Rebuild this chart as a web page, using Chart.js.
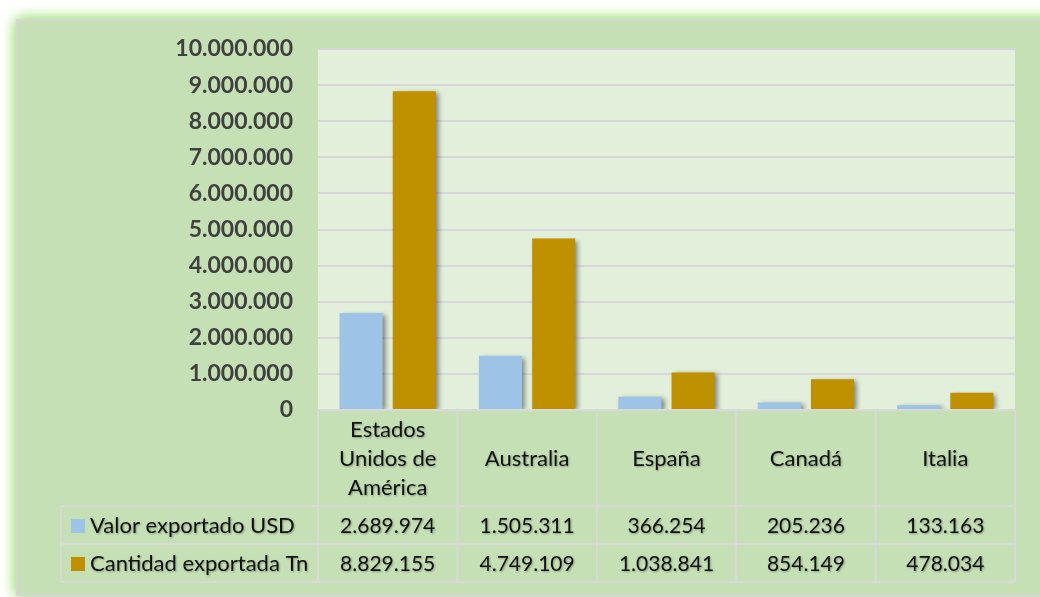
<!DOCTYPE html>
<html>
<head>
<meta charset="utf-8">
<script src="https://cdn.jsdelivr.net/npm/chart.js@4.4.1/dist/chart.umd.min.js"></script>
<style>
  html, body { margin: 0; padding: 0; background: #ffffff; }
  #c { display: block; }
</style>
</head>
<body>
<canvas id="c" width="1040" height="597"></canvas>
<script>
// ---- data ----
const categories = [['Estados', 'Unidos de', 'América'], ['Australia'], ['España'], ['Canadá'], ['Italia']];
const seriesNames = ['Valor exportado USD', 'Cantidad exportada Tn'];
const valorUSD = [2689974, 1505311, 366254, 205236, 133163];
const cantidadTn = [8829155, 4749109, 1038841, 854149, 478034];
const yTicks = [0, 1000000, 2000000, 3000000, 4000000, 5000000, 6000000, 7000000, 8000000, 9000000, 10000000];

const colors = ['#9DC3E6', '#BF9000'];
const FONT = 'Lato, "Open Sans", sans-serif';

function fmt(n) {
  return String(Math.round(n)).replace(/\B(?=(\d{3})+(?!\d))/g, '.');
}

const framePlugin = {
  id: 'frame',
  beforeDraw(chart) {
    const ctx = chart.ctx;
    const a = chart.chartArea;
    ctx.save();
    ctx.fillStyle = '#ffffff';
    ctx.fillRect(0, 0, chart.width, chart.height);
    // glow
    ctx.shadowColor = 'rgba(160, 225, 120, 1)';
    ctx.shadowBlur = 14;
    ctx.fillStyle = '#C5E0B4';
    ctx.fillRect(17, 20, 1060, 575);
    ctx.fillRect(17, 20, 1060, 575);
    ctx.shadowColor = 'transparent';
    ctx.shadowBlur = 0;
    ctx.fillStyle = '#C5E0B4';
    ctx.fillRect(17, 20, 1060, 575);
    ctx.strokeStyle = '#D6D6D6';
    ctx.lineWidth = 2;
    ctx.strokeRect(17, 20, 1060, 575);
    // plot area
    ctx.fillStyle = '#E2EFDA';
    ctx.fillRect(a.left, a.top, a.right - a.left, a.bottom - a.top);
    ctx.restore();
  }
};

const shadowPlugin = {
  id: 'barShadow',
  beforeDatasetsDraw(chart) {
    const ctx = chart.ctx;
    ctx.save();
    ctx.shadowColor = 'rgba(0,0,0,0.45)';
    ctx.shadowBlur = 5;
    ctx.shadowOffsetX = 3;
    ctx.shadowOffsetY = 2;
  },
  afterDatasetsDraw(chart) {
    chart.ctx.restore();
  }
};

const tablePlugin = {
  id: 'dataTable',
  afterDraw(chart) {
    const ctx = chart.ctx;
    const a = chart.chartArea;
    const xs = chart.scales.x;
    const n = categories.length;
    const bounds = [a.left];
    for (let i = 0; i < n - 1; i++) {
      bounds.push((xs.getPixelForValue(i) + xs.getPixelForValue(i + 1)) / 2);
    }
    bounds.push(a.right);
    const top = a.bottom;
    const rowTops = [top, top + 96, top + 134, top + 172];
    const legendLeft = 61;

    ctx.save();
    ctx.strokeStyle = '#D9D9D9';
    ctx.lineWidth = 2;
    ctx.beginPath();
    ctx.moveTo(a.left, rowTops[0]); ctx.lineTo(a.right, rowTops[0]);
    for (let r = 1; r < rowTops.length; r++) {
      ctx.moveTo(legendLeft, rowTops[r]); ctx.lineTo(a.right, rowTops[r]);
    }
    bounds.forEach(x => { ctx.moveTo(x, rowTops[0]); ctx.lineTo(x, rowTops[3]); });
    ctx.moveTo(legendLeft, rowTops[1]); ctx.lineTo(legendLeft, rowTops[3]);
    ctx.stroke();

    ctx.fillStyle = '#111111';
    ctx.shadowColor = 'rgba(0,0,0,0.3)';
    ctx.shadowBlur = 2;
    ctx.shadowOffsetX = 1;
    ctx.shadowOffsetY = 1;
    ctx.font = '22px ' + FONT;
    ctx.textAlign = 'center';
    ctx.textBaseline = 'middle';
    // header
    const hc = (rowTops[0] + rowTops[1]) / 2 + 1;
    const lh = 29;
    categories.forEach((lines, i) => {
      const cx = xs.getPixelForValue(i);
      const start = hc - (lines.length - 1) * lh / 2;
      lines.forEach((t, k) => ctx.fillText(t, cx, start + k * lh));
    });
    // rows
    ctx.font = '21px ' + FONT;
    const series = [valorUSD, cantidadTn];
    series.forEach((vals, r) => {
      const cy = (rowTops[r + 1] + rowTops[r + 2]) / 2 + 1;
      vals.forEach((v, i) => ctx.fillText(fmt(v), xs.getPixelForValue(i), cy));
    });
    // legend
    ctx.font = '22px ' + FONT;
    ctx.textAlign = 'left';
    seriesNames.forEach((name, r) => {
      const cy = (rowTops[r + 1] + rowTops[r + 2]) / 2 + 1;
      ctx.shadowColor = 'transparent';
      ctx.fillStyle = colors[r];
      ctx.fillRect(71, cy - 7, 14, 14);
      ctx.shadowColor = 'rgba(0,0,0,0.3)';
      ctx.fillStyle = '#111111';
      ctx.fillText(name, 90, cy);
    });
    ctx.restore();
  }
};

new Chart(document.getElementById('c'), {
  type: 'bar',
  data: {
    labels: categories,
    datasets: [
      { label: seriesNames[0], data: valorUSD, backgroundColor: colors[0] },
      { label: seriesNames[1], data: cantidadTn, backgroundColor: colors[1] }
    ]
  },
  options: {
    responsive: false,
    animation: false,
    devicePixelRatio: 1,
    categoryPercentage: 0.763,
    barPercentage: 0.81,
    layout: { padding: { left: 0, top: 49, right: 25, bottom: 187 } },
    plugins: { legend: { display: false }, tooltip: { enabled: false } },
    scales: {
      x: { display: false, offset: true },
      y: {
        min: 0,
        max: 10000000,
        afterFit(scale) { scale.width = 318; },
        afterBuildTicks(scale) { scale.ticks = yTicks.map(v => ({ value: v })); },
        border: { display: false },
        grid: { color: '#D8D5DC', lineWidth: 2, drawTicks: false },
        ticks: {
          padding: 25,
          color: '#404040',
          font: { family: FONT, size: 23, weight: 'bold' },
          callback: v => fmt(v)
        }
      }
    }
  },
  plugins: [framePlugin, shadowPlugin, tablePlugin]
});
</script>
</body>
</html>
